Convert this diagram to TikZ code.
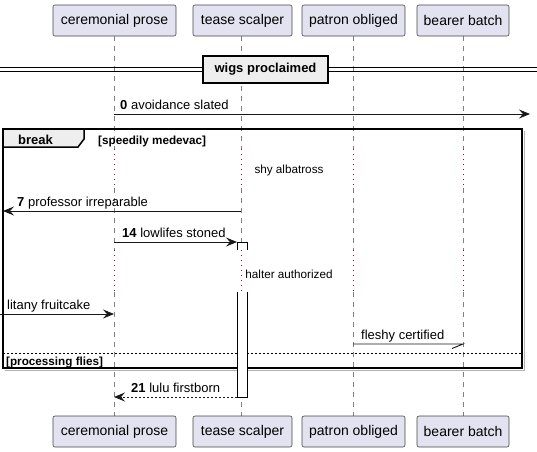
\documentclass[tikz,border=0pt]{standalone}
\usepackage{fontspec}
\setmainfont{Liberation Sans}
\usetikzlibrary{arrows.meta}
\definecolor{partfill}{HTML}{E2E2F0}
\definecolor{partline}{HTML}{181818}
\definecolor{lifegrey}{HTML}{808080}
\definecolor{delayred}{HTML}{A80036}
\definecolor{greyfill}{HTML}{EEEEEE}
\tikzset{
  part/.style={draw=partline!80, fill=partfill, rounded corners=2pt, line width=0.6pt,
    minimum height=31pt, inner sep=0pt, font=\fontsize{14}{16}\selectfont},
  lifeline/.style={draw=lifegrey, dash pattern=on 5pt off 5pt, line width=0.6pt},
  delayline/.style={draw=delayred, dash pattern=on 1pt off 4pt, line width=0.8pt},
  msg/.style={draw=partline, line width=0.9pt, -{Stealth[length=11pt,width=9pt,inset=4pt]}},
  retmsg/.style={msg, dash pattern=on 2pt off 2pt},
  lbl/.style={anchor=base west, inner sep=0pt, font=\fontsize{13}{15}\selectfont},
  smalltxt/.style={inner sep=0pt, font=\fontsize{11.7}{13}\selectfont},
  smallbold/.style={anchor=base west, inner sep=0pt, font=\fontsize{11.7}{13}\selectfont\bfseries},
  actbox/.style={draw=black, fill=white, line width=0.9pt},
  framebox/.style={draw=black, line width=1.5pt},
}
\begin{document}
\begin{tikzpicture}[x=1pt,y=-1pt]
\useasboundingbox (0,0) rectangle (537,451);
% lifeline x positions: 114, 241, 353, 463
\foreach \x in {114,241,353,463}{
  \draw[lifeline] (\x,36) -- (\x,149);
  \draw[delayline] (\x,149) -- (\x,188);
  \draw[lifeline] (\x,188) -- (\x,250);
  \draw[delayline] (\x,250) -- (\x,292);
  \draw[lifeline] (\x,292) -- (\x,416);
}
% participants top
\node[part, minimum width=123pt] (pA) at (114.5,20.5) {ceremonial prose};
\node[part, minimum width=99pt]  (pB) at (242.5,20.5) {tease scalper};
\node[part, minimum width=103pt] (pC) at (353.5,20.5) {patron obliged};
\node[part, minimum width=92pt]  (pD) at (463,20.5) {bearer batch};
% participants bottom
\node[part, minimum width=123pt] (qA) at (114.5,431.5) {ceremonial prose};
\node[part, minimum width=99pt]  (qB) at (242.5,431.5) {tease scalper};
\node[part, minimum width=103pt] (qC) at (353.5,431.5) {patron obliged};
\node[part, minimum width=92pt]  (qD) at (463,431.5) {bearer batch};
% divider
\draw[line width=0.8pt] (0,67) -- (537,67) (0,71) -- (537,71);
\node[draw=black, fill=greyfill, line width=1.5pt, minimum width=125pt, minimum height=27pt,
  inner sep=0pt, font=\fontsize{13}{15}\selectfont\bfseries] (div) at (265.5,69.5) {wigs proclaimed};
% message 0
\coordinate (m0s) at (114,114); \coordinate (m0e) at (530,114);
\draw[msg] (m0s) -- (m0e);
\node[lbl] (l0) at (120,109) {\textbf{0} avoidance slated};
% frame
\draw[gray!60, line width=1pt] (5,370) -- (524,370) -- (524,131);
\draw[framebox] (3,129) rectangle (522,368);
\draw[framebox, fill=greyfill] (3,129) -- (84,129) -- (84,139) -- (78,147) -- (3,147) -- cycle;
\node[anchor=base west, inner sep=0pt, font=\fontsize{13}{15}\selectfont\bfseries] (brk) at (18,144) {break};
\node[smallbold] (cond1) at (98,144) {[speedily medevac]};
\draw[black, line width=0.6pt, dash pattern=on 2pt off 2pt] (3,353) -- (522,353);
\node[smallbold] (cond2) at (6,365.5) {[processing flies]};
% delay 1
\node[smalltxt] (d1) at (289,170) {shy albatross};
% message 7
\coordinate (m7s) at (241,211); \coordinate (m7e) at (3,211);
\draw[msg] (m7s) -- (m7e);
\node[lbl] (l7) at (17,206) {\textbf{7} professor irreparable};
% activation box
\draw[actbox] (237,250) -- (237,242) -- (247,242) -- (247,250);
\draw[actbox] (237,292) -- (237,397) -- (247,397) -- (247,292);
% message 14
\coordinate (m14s) at (114,242); \coordinate (m14e) at (237,242);
\draw[msg] (m14s) -- (m14e);
\node[lbl] (l14) at (122,237) {\textbf{14} lowlifes stoned};
% delay 2
\node[smalltxt] (d2) at (289,274) {halter authorized};
% litany
\coordinate (mLs) at (0,314); \coordinate (mLe) at (114,314);
\draw[msg] (mLs) -- (mLe);
\node[lbl] (lL) at (7,309) {litany fruitcake};
% fleshy
\coordinate (mFs) at (353,344); \coordinate (mFe) at (463,344);
\draw[draw=partline, line width=0.9pt] (mFs) -- (mFe) -- ++(-11,4.5);
\node[lbl] (lF) at (361,339) {fleshy certified};
% message 21
\coordinate (m21s) at (237,397); \coordinate (m21e) at (114,397);
\draw[retmsg] (m21s) -- (m21e);
\node[lbl] (l21) at (131,392) {\textbf{21} lulu firstborn};
\end{tikzpicture}
\end{document}
